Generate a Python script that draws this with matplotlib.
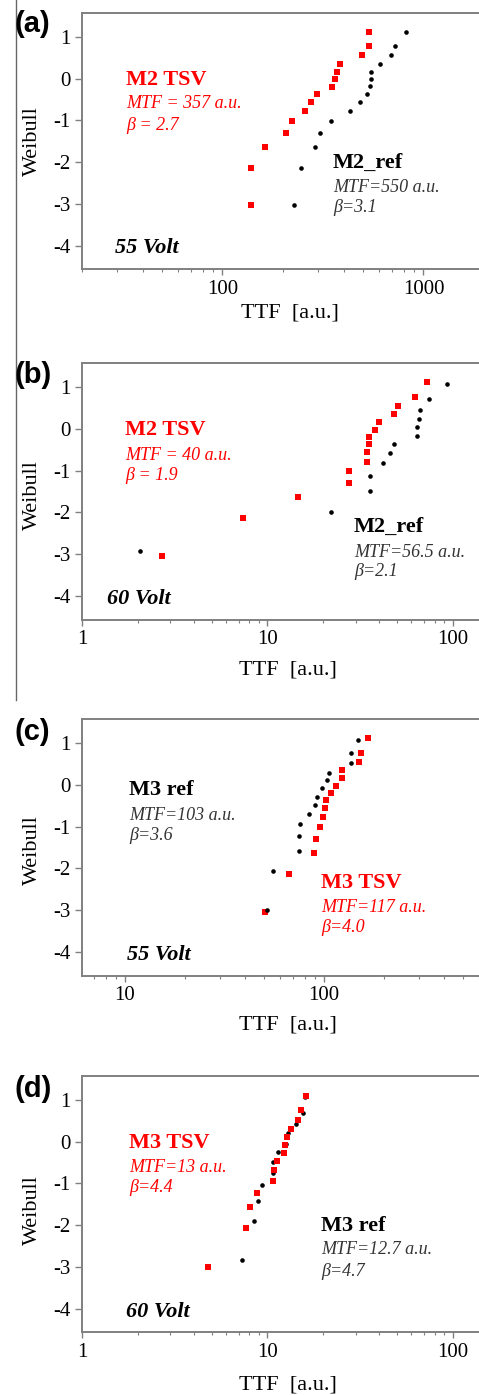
import matplotlib
matplotlib.use("Agg")
import matplotlib.pyplot as plt
from matplotlib.ticker import LogLocator, FuncFormatter, NullFormatter, FixedLocator
from matplotlib.lines import Line2D
import math

plt.rcParams['axes.unicode_minus'] = False

W, H = 479, 1395

# ---------------- data ----------------
# (a) 55 V, M2
a_tsv_ttf = [533, 533, 494, 383, 372, 362, 352, 296, 277, 256, 222, 208, 163, 139, 138]
a_tsv_w   = [1.125, 0.774, 0.559, 0.351, 0.168, -0.016, -0.19, -0.375, -0.56, -0.77, -1.01, -1.29, -1.64, -2.14, -3.04]
a_ref_ttf = [820, 718, 689, 605, 550, 550, 540, 523, 485, 431, 347, 305, 290, 247, 228]
a_ref_w   = [1.125, 0.774, 0.559, 0.359, 0.168, -0.016, -0.18, -0.375, -0.56, -0.77, -1.01, -1.29, -1.64, -2.14, -3.04]

# (b) 60 V, M2
b_tsv_ttf = [72.7, 62.9, 51.0, 48.4, 39.9, 38.1, 35.5, 35.2, 34.7, 34.4, 27.5, 27.5, 14.6, 7.4, 2.70]
b_tsv_w   = [1.126, 0.775, 0.559, 0.36, 0.176, -0.016, -0.18, -0.367, -0.56, -0.78, -1.006, -1.29, -1.64, -2.14, -3.04]
b_ref_ttf = [93.2, 74.8, 66.4, 65.6, 64.3, 63.9, 48.1, 45.9, 42.3, 35.8, 35.8, 22.1, 2.06]
b_ref_w   = [1.08, 0.72, 0.46, 0.25, 0.04, -0.16, -0.36, -0.58, -0.82, -1.12, -1.49, -1.99, -2.92]

# (c) 55 V, M3
c_ref_ttf = [147.6, 137, 137, 106.4, 103, 97.6, 91.8, 90.1, 83.8, 75.7, 74.6, 74.6, 55.6, 51.7]
c_ref_w   = [1.088, 0.76, 0.52, 0.296, 0.112, -0.08, -0.28, -0.47, -0.69, -0.93, -1.22, -1.58, -2.07, -2.99]
c_tsv_ttf = [166.4, 152.8, 150.5, 123.7, 123.7, 114.5, 108.1, 102.4, 100.8, 98.4, 95.1, 91.1, 89.1, 66.4, 50.6]
c_tsv_w   = [1.12, 0.776, 0.56, 0.352, 0.168, -0.024, -0.184, -0.36, -0.552, -0.776, -1.008, -1.296, -1.64, -2.144, -3.056]

# (d) 60 V, M3
d_tsv_ttf = [16.2, 15.2, 14.6, 13.4, 12.8, 12.5, 12.25, 11.3, 10.9, 10.8, 8.76, 8.09, 7.70, 4.80]
d_tsv_w   = [1.096, 0.76, 0.512, 0.296, 0.112, -0.072, -0.28, -0.464, -0.688, -0.936, -1.224, -1.576, -2.08, -3.008]
d_ref_ttf = [16.0, 15.5, 14.3, 12.9, 12.6, 11.4, 10.8, 10.7, 9.36, 8.91, 8.51, 7.27]
d_ref_w   = [1.064, 0.68, 0.424, 0.208, -0.056, -0.256, -0.488, -0.744, -1.04, -1.416, -1.912, -2.84]

y_ticks = [-4, -3, -2, -1, 0, 1]
# ---------------------------------------

RED = '#ff0000'
BLK = '#000000'
GREY_TXT = '#333333'
SPINE = '#808080'
SERIF = 'Liberation Serif'
SANS = 'Liberation Sans'

fig = plt.figure(figsize=(W / 100, H / 100), dpi=100)

def fx(x):
    return x / W

def fy(y):
    return 1 - y / H

def ftext(x, y, s, **kw):
    fig.text(fx(x), fy(y), s, ha='left', va='center', **kw)

# left frame line
fig.add_artist(Line2D([fx(16), fx(16)], [fy(0), fy(700)], color='#666666', lw=1.0))

YLIM = (-4.57, 1.58)
AX_H = 256.5

def make_ax(top, xlim, decade_px, series, label_y, xlabel_cx, xlabel_cy, ylabel_cy):
    wpx = math.log10(xlim[1] / xlim[0]) * decade_px
    ax = fig.add_axes([fx(82), fy(top + AX_H), wpx / W, AX_H / H])
    ax.set_xscale('log')
    ax.set_xlim(*xlim)
    ax.set_ylim(*YLIM)
    for ttf, w, kind in series:
        if kind == 'tsv':
            ax.plot(ttf, w, linestyle='none', marker='s', markersize=3.8,
                    color=RED, markeredgewidth=0)
        else:
            ax.plot(ttf, w, linestyle='none', marker='o', markersize=3.3,
                    color=BLK, markeredgewidth=0)
    ax.yaxis.set_major_locator(FixedLocator(y_ticks))
    ax.yaxis.set_major_formatter(FuncFormatter(lambda v, p: '%d' % v))
    ax.xaxis.set_major_locator(LogLocator(base=10, numticks=10))
    ax.xaxis.set_minor_locator(LogLocator(base=10, subs=range(2, 10), numticks=20))
    ax.xaxis.set_major_formatter(FuncFormatter(lambda v, p: '%g' % v))
    ax.xaxis.set_minor_formatter(NullFormatter())
    ax.tick_params(axis='both', which='major', direction='out', color=SPINE,
                   labelsize=15, width=1.0)
    ax.tick_params(axis='x', which='major', length=4, pad=3.5)
    ax.tick_params(axis='x', which='minor', length=2, width=0.8, color=SPINE, direction='out')
    ax.tick_params(axis='y', which='major', length=5, pad=3)
    ax.tick_params(axis='y', which='minor', left=False)
    for lab in ax.get_xticklabels() + ax.get_yticklabels():
        lab.set_fontfamily(SERIF)
    for sp in ax.spines.values():
        sp.set_color(SPINE)
        sp.set_linewidth(1.4)
    ax.spines['right'].set_visible(False)
    ax.set_xlabel('TTF  [a.u.]', fontsize=16, fontfamily=SERIF, va='center')
    ax.xaxis.set_label_coords((xlabel_cx - 82) / wpx, -(xlabel_cy - (top + AX_H)) / AX_H)
    ax.set_ylabel('Weibull', fontsize=16, fontfamily=SERIF, va='center')
    ax.yaxis.set_label_coords((32 - 82) / wpx, 1 - (ylabel_cy - top) / AX_H)
    fig.text(fx(14), fy(label_y[1]), label_y[0], ha='left', va='center',
             fontsize=21, fontweight='bold', fontfamily=SANS)
    return ax

# (a)
make_ax(12.8, (20, 3000), 201,
        [(a_ref_ttf, a_ref_w, 'ref'), (a_tsv_ttf, a_tsv_w, 'tsv')],
        ('(a)', 24), 290, 313, 141)
ftext(126, 80, 'M2 TSV', fontsize=16, fontweight='bold', fontfamily=SERIF, color=RED)
ftext(126, 104, 'MTF = 357 a.u.', fontsize=13, style='italic', fontfamily=SERIF, color=RED)
ftext(126, 125, 'β = 2.7', fontsize=13, style='italic', fontfamily=SERIF, color=RED)
ftext(333, 163, 'M2_ref', fontsize=16, fontweight='bold', fontfamily=SERIF, color=BLK)
ftext(333, 187, 'MTF=550 a.u.', fontsize=13, style='italic', fontfamily=SERIF, color=GREY_TXT)
ftext(333, 208, 'β=3.1', fontsize=13, style='italic', fontfamily=SERIF, color=GREY_TXT)
ftext(115, 248, '55 Volt', fontsize=16, fontweight='bold', style='italic', fontfamily=SERIF, color=BLK)

# (b)
make_ax(363.1, (1, 300), 185.3,
        [(b_ref_ttf, b_ref_w, 'ref'), (b_tsv_ttf, b_tsv_w, 'tsv')],
        ('(b)', 375), 288, 670, 495)
ftext(125, 430, 'M2 TSV', fontsize=16, fontweight='bold', fontfamily=SERIF, color=RED)
ftext(125, 455, 'MTF = 40 a.u.', fontsize=13, style='italic', fontfamily=SERIF, color=RED)
ftext(125, 476, 'β = 1.9', fontsize=13, style='italic', fontfamily=SERIF, color=RED)
ftext(354, 527, 'M2_ref', fontsize=16, fontweight='bold', fontfamily=SERIF, color=BLK)
ftext(354, 552, 'MTF=56.5 a.u.', fontsize=13, style='italic', fontfamily=SERIF, color=GREY_TXT)
ftext(354, 572, 'β=2.1', fontsize=13, style='italic', fontfamily=SERIF, color=GREY_TXT)
ftext(107, 599, '60 Volt', fontsize=16, fontweight='bold', style='italic', fontfamily=SERIF, color=BLK)

# (c)
make_ax(719.1, (6.08, 900), 199,
        [(c_tsv_ttf, c_tsv_w, 'tsv'), (c_ref_ttf, c_ref_w, 'ref')],
        ('(c)', 732), 288, 1025, 850)
ftext(129, 790, 'M3 ref', fontsize=16, fontweight='bold', fontfamily=SERIF, color=BLK)
ftext(129, 815, 'MTF=103 a.u.', fontsize=13, style='italic', fontfamily=SERIF, color=GREY_TXT)
ftext(129, 836, 'β=3.6', fontsize=13, style='italic', fontfamily=SERIF, color=GREY_TXT)
ftext(321, 883, 'M3 TSV', fontsize=16, fontweight='bold', fontfamily=SERIF, color=RED)
ftext(321, 907, 'MTF=117 a.u.', fontsize=13, style='italic', fontfamily=SERIF, color=RED)
ftext(321, 928, 'β=4.0', fontsize=13, style='italic', fontfamily=SERIF, color=RED)
ftext(127, 955, '55 Volt', fontsize=16, fontweight='bold', style='italic', fontfamily=SERIF, color=BLK)

# (d)
make_ax(1075.8, (1, 300), 185.3,
        [(d_ref_ttf, d_ref_w, 'ref'), (d_tsv_ttf, d_tsv_w, 'tsv')],
        ('(d)', 1089), 288, 1385, 1210)
ftext(129, 1143, 'M3 TSV', fontsize=16, fontweight='bold', fontfamily=SERIF, color=RED)
ftext(129, 1167, 'MTF=13 a.u.', fontsize=13, style='italic', fontfamily=SERIF, color=RED)
ftext(129, 1188, 'β=4.4', fontsize=13, style='italic', fontfamily=SERIF, color=RED)
ftext(321, 1226, 'M3 ref', fontsize=16, fontweight='bold', fontfamily=SERIF, color=BLK)
ftext(321, 1250, 'MTF=12.7 a.u.', fontsize=13, style='italic', fontfamily=SERIF, color=GREY_TXT)
ftext(321, 1272, 'β=4.7', fontsize=13, style='italic', fontfamily=SERIF, color=GREY_TXT)
ftext(126, 1312, '60 Volt', fontsize=16, fontweight='bold', style='italic', fontfamily=SERIF, color=BLK)

fig.savefig('out.png', dpi=100)
